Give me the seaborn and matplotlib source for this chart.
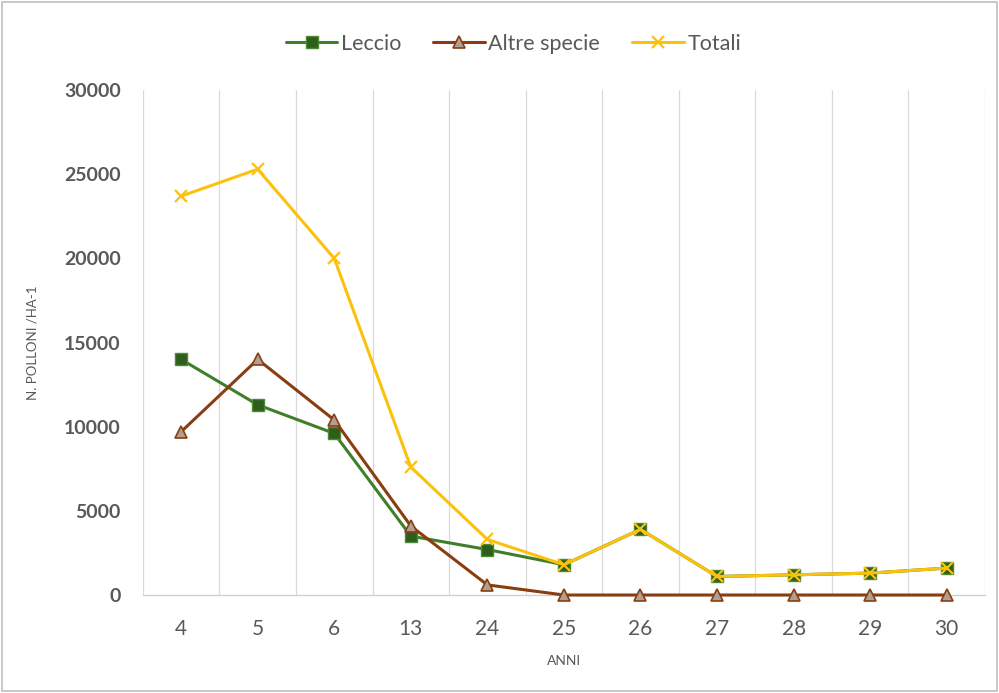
import matplotlib
matplotlib.use("Agg")
import matplotlib.pyplot as plt
import seaborn as sns
import pandas as pd
from matplotlib.patches import Rectangle

anni = ["4", "5", "6", "13", "24", "25", "26", "27", "28", "29", "30"]
leccio = [14000, 11300, 9600, 3500, 2700, 1800, 3900, 1100, 1200, 1300, 1600]
altre_specie = [9700, 14000, 10400, 4100, 600, 0, 0, 0, 0, 0, 0]
totali = [23700, 25300, 20000, 7600, 3300, 1800, 3900, 1100, 1200, 1300, 1600]

sns.set_theme(style="white")
plt.rcParams["font.family"] = ["Lato", "DejaVu Sans"]

pos = list(range(len(anni)))
df = pd.DataFrame({"pos": pos * 3,
                   "val": leccio + altre_specie + totali,
                   "serie": ["Leccio"] * len(anni) + ["Altre specie"] * len(anni) + ["Totali"] * len(anni)})

fig = plt.figure(figsize=(9.99, 6.93), dpi=100)
ax = fig.add_axes([0.143, 0.1414, 0.843, 0.7286])

styles = {
    "Leccio": dict(color="#3f7f2a", marker="s", markersize=9, markerfacecolor="#2e5e1b",
                   markeredgecolor="#4b8a33", markeredgewidth=1.0, lw=2.2),
    "Altre specie": dict(color="#8a3d10", marker="^", markersize=9, markerfacecolor="#b0a092",
                         markeredgecolor="#8a3d10", markeredgewidth=1.2, lw=2.2),
    "Totali": dict(color="#fcc10d", marker="x", markersize=8, markeredgecolor="#fcc10d",
                   markeredgewidth=1.6, lw=2.2),
}
for name in ["Leccio", "Altre specie", "Totali"]:
    sub = df[df["serie"] == name]
    sns.lineplot(data=sub, x="pos", y="val", ax=ax, label=name, sort=False, **styles[name])
for ln in ax.lines:
    ln.set_clip_on(False)

ax.set_xlim(-0.5, len(anni) - 0.5)
ax.set_ylim(0, 30000)
ax.set_yticks(range(0, 30001, 5000))
ax.set_xticks(pos)
ax.set_xticklabels(anni)

# category boundaries as vertical gridlines
for b in range(0, len(anni) + 1):
    ax.axvline(b - 0.5, color="#d9d9d9", lw=0.9, zorder=0)

for s in ["top", "right", "left"]:
    ax.spines[s].set_visible(False)
ax.spines["bottom"].set_color("#d0d0d0")
ax.spines["bottom"].set_linewidth(1.0)
ax.spines["bottom"].set_zorder(0.5)

ax.tick_params(axis="y", length=0, pad=16, labelsize=14, labelcolor="#595959")
ax.tick_params(axis="x", length=0, pad=17, labelsize=15, labelcolor="#595959")
for t in ax.get_yticklabels():
    t.set_fontweight("bold")

ax.set_xlabel("ANNI", fontsize=10, color="#595959", labelpad=12)
ax.set_ylabel("N. POLLONI /HA-1", fontsize=9.5, color="#595959", labelpad=18)

ax.legend(loc="upper center", bbox_to_anchor=(0.44, 1.15), ncol=3, frameon=False,
          fontsize=15.5, labelcolor="#595959", handlelength=2.4, handletextpad=0.15,
          columnspacing=1.5)

fig.patches.append(Rectangle((0.002, 0.003), 0.996, 0.994, transform=fig.transFigure,
                             fill=False, edgecolor="#bfbfbf", lw=1.2))

fig.savefig("out.png", dpi=100)
